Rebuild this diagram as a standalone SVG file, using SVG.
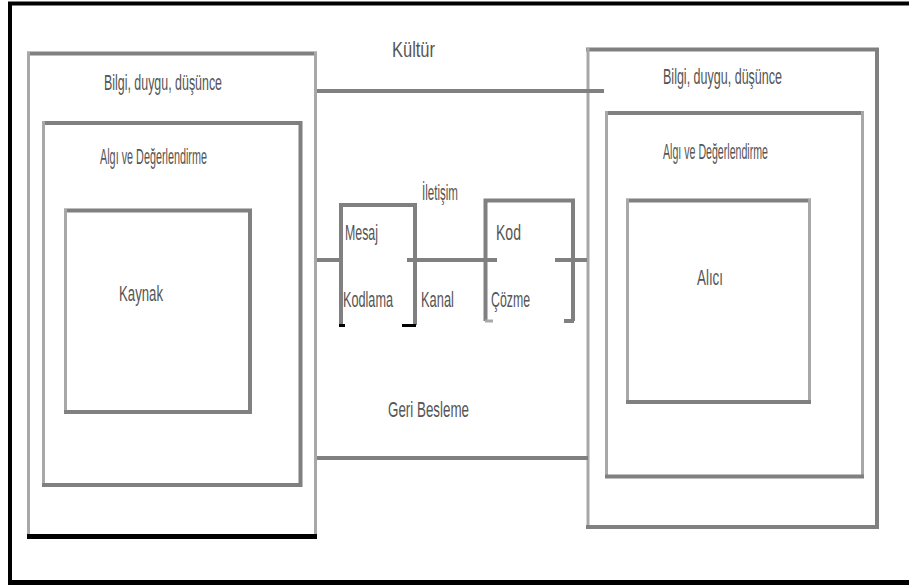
<svg xmlns="http://www.w3.org/2000/svg" width="909" height="585" viewBox="0 0 909 585">
<style>
.t{font-family:"Liberation Sans",Arial,sans-serif;font-size:22px;fill:#555}
.d{stroke:#808080;stroke-width:4;fill:none}
.l{stroke:#a8a8a8;stroke-width:3;fill:none}
.k{stroke:#000;fill:none}
</style>
<rect width="909" height="585" fill="#fff"/>
<g id="frame">
<path class="k" stroke-width="4" d="M8 3.5H909"/>
<path class="k" stroke-width="4" d="M10 2V585"/>
<path class="k" stroke-width="5" d="M8 582.5H909"/>
</g>
<g id="left-outer">
<path class="d" d="M27 53.5H317"/>
<path class="l" d="M28.5 52V536"/>
<path class="l" d="M315.5 52V536"/>
<path class="k" stroke-width="5" d="M27 536.5H317"/>
<text class="t" x="104" y="90" textLength="118" lengthAdjust="spacingAndGlyphs">Bilgi, duygu, düşünce</text>
</g>
<g id="left-middle">
<path class="d" d="M42 123H302"/>
<path class="l" d="M43.5 121V487"/>
<path class="d" d="M300.5 121V487"/>
<path class="d" d="M42 485H302"/>
<text class="t" x="100" y="164" textLength="107" lengthAdjust="spacingAndGlyphs">Algı ve Değerlendirme</text>
</g>
<g id="kaynak">
<path class="d" d="M64 210.5H252"/>
<path class="l" d="M65.5 209V414"/>
<path class="d" d="M250 209V414"/>
<path class="d" d="M64 412H252"/>
<text class="t" x="119" y="301" textLength="44" lengthAdjust="spacingAndGlyphs">Kaynak</text>
</g>
<g id="right-outer">
<path class="d" d="M586 49.5H879"/>
<path class="l" d="M588 48V529"/>
<path class="d" d="M877 48V529"/>
<path class="d" d="M586 527H879"/>
<text class="t" x="663" y="84" textLength="119" lengthAdjust="spacingAndGlyphs">Bilgi, duygu, düşünce</text>
</g>
<g id="right-middle">
<path class="d" d="M605 113H864"/>
<path class="l" d="M606.5 111V478"/>
<path class="l" d="M862.5 111V478"/>
<path class="d" d="M605 476.5H864"/>
<text class="t" x="663" y="159" textLength="105" lengthAdjust="spacingAndGlyphs">Algı ve Değerlendirme</text>
</g>
<g id="alici">
<path class="d" d="M626 200.5H811"/>
<path class="l" d="M627.5 199V404"/>
<path class="l" d="M809.5 199V404"/>
<path class="d" d="M626 402H811"/>
<text class="t" x="697" y="285" textLength="26" lengthAdjust="spacingAndGlyphs">Alıcı</text>
</g>
<g id="mesaj-kodlama">
<path class="d" d="M341 325V205H415V325" stroke-width="3"/>
<path class="k" stroke-width="3" d="M339 325.5H345M402 325.5H416"/>
<text class="t" x="345" y="240" textLength="33" lengthAdjust="spacingAndGlyphs">Mesaj</text>
<text class="t" transform="translate(343,307) scale(0.576,1)">Kodlama</text>
</g>
<g id="kod-cozme">
<path class="d" d="M485.5 321V200.5H573V321" stroke-width="3"/>
<path class="l" d="M485 321H493"/>
<path class="d" stroke-width="3" d="M564 321H574"/>
<text class="t" x="496" y="240" textLength="25" lengthAdjust="spacingAndGlyphs">Kod</text>
<text class="t" x="491" y="307" textLength="39" lengthAdjust="spacingAndGlyphs">Çözme</text>
</g>
<g id="connectors">
<path class="d" d="M317 91H604"/>
<path class="d" d="M317 458H588"/>
<path class="d" d="M317 260H343M407 260H497M555 260H587"/>
</g>
<g id="labels">
<text class="t" x="392" y="57" textLength="43" lengthAdjust="spacingAndGlyphs">Kültür</text>
<text class="t" x="422" y="200" textLength="36" lengthAdjust="spacingAndGlyphs">İletişim</text>
<text class="t" transform="translate(421,307) scale(0.586,1)">Kanal</text>
<text class="t" x="388" y="417" textLength="81" lengthAdjust="spacingAndGlyphs">Geri Besleme</text>
</g>
</svg>
